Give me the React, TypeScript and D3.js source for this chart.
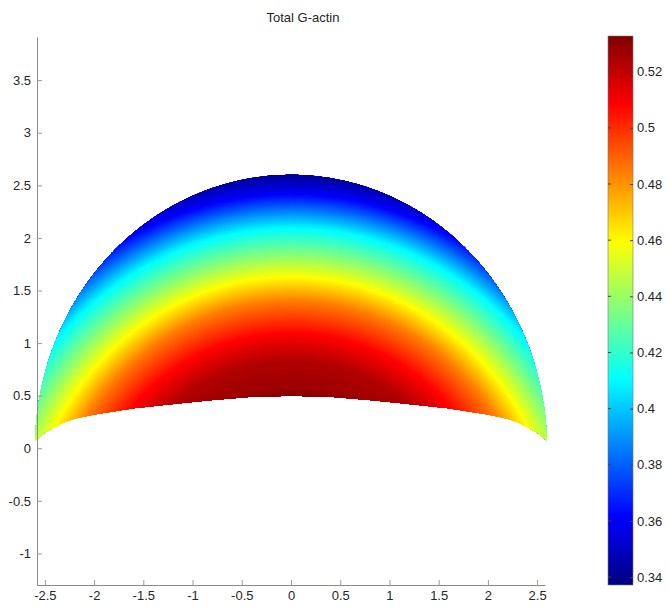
import React, { useEffect, useRef } from "react";
import * as d3 from "d3";

// lower (rear) edge of the cell, left half; right half is the mirror
const lowerX = [-2.6, -2.55, -2.5, -2.4, -2.3, -2.2, -2.0, -1.6, -1.2, -0.8, -0.4, 0];
const lowerY = [0.07, 0.11, 0.15, 0.2, 0.25, 0.28, 0.32, 0.38, 0.42, 0.46, 0.49, 0.5];

// G-actin (height -> value)
const profileH = [0.49, 0.58, 0.84, 1.1, 1.41, 1.63, 1.86, 2.1, 2.43, 2.62];
const profileV = [0.532, 0.527, 0.523, 0.508, 0.484, 0.46, 0.435, 0.41, 0.36, 0.34];

const xTicks = [-2.5, -2, -1.5, -1, -0.5, 0, 0.5, 1, 1.5, 2, 2.5];
const yTicks = [-1, -0.5, 0, 0.5, 1, 1.5, 2, 2.5, 3, 3.5];
const cbTicks = [0.34, 0.36, 0.38, 0.4, 0.42, 0.44, 0.46, 0.48, 0.5, 0.52];

const outerR = 2.6; // front edge radius
const focusY = -1.1; // contours look like arcs around this point
const cMin = 0.3372, cMax = 0.5327;

// matlab jet
const jetStops = [0, 0.125, 0.375, 0.625, 0.875, 1];
const jetColors = ["#00007f", "#0000ff", "#00ffff", "#ffff00", "#ff0000", "#7f0000"];

const font = "'Liberation Sans', Arial, sans-serif";

export default function App() {
  const ref = useRef<SVGSVGElement>(null);

  useEffect(() => {
    document.body.style.margin = "0";
    const svg = d3.select(ref.current);
    svg.selectAll("*").remove();

    const x = d3.scaleLinear().domain([-2.58, 2.58]).range([37, 545]);
    const y = d3.scaleLinear().domain([-1.3, 3.91]).range([585, 37]);
    const jet = d3.scaleLinear<string>().domain(jetStops).range(jetColors).interpolate(d3.interpolateRgb);
    const color = (v: number) => jet((v - cMin) / (cMax - cMin));
    const hToV = d3.scaleLinear().domain(profileH).range(profileV).clamp(true);

    // cell outline
    const lower = lowerX.map((d, i) => [d, lowerY[i]]);
    const lowerFull = lower.concat(lower.slice(0, -1).reverse().map(p => [-p[0], p[1]]));
    const a0 = Math.asin(lowerY[0] / outerR);
    const arc = d3.range(a0, Math.PI - a0, 0.01).concat([Math.PI - a0]).map(a => [outerR * Math.cos(a), outerR * Math.sin(a)]);
    const line = d3.line<number[]>().x(d => x(d[0])).y(d => y(d[1]));
    const outline = line(lowerFull.concat(arc)) + "Z";

    const defs = svg.append("defs");
    defs.append("clipPath").attr("id", "cellClip").append("path").attr("d", outline);

    const grad = defs.append("linearGradient").attr("id", "jetGrad")
      .attr("x1", 0).attr("y1", 1).attr("x2", 0).attr("y2", 0);
    grad.selectAll("stop").data(jetStops).enter().append("stop")
      .attr("offset", d => d)
      .attr("stop-color", (d, i) => jetColors[i]);

    // field: draw rings from outside in
    const kx = x(1) - x(0), ky = y(0) - y(1);
    const field = svg.append("g").attr("clip-path", "url(#cellClip)");
    field.selectAll("ellipse")
      .data(d3.range(3.8, 1.5, -0.01))
      .enter()
      .append("ellipse")
      .attr("cx", x(0))
      .attr("cy", y(focusY))
      .attr("rx", d => d * kx)
      .attr("ry", d => d * ky)
      .attr("fill", d => color(hToV(focusY + d)));

    // axes
    const xAxis = svg.append("g")
      .attr("transform", "translate(0,585)")
      .call(d3.axisBottom(x).tickValues(xTicks).tickFormat(d => String(d)).tickSize(-5).tickSizeOuter(0).tickPadding(6));
    const yAxis = svg.append("g")
      .attr("transform", "translate(37,0)")
      .call(d3.axisLeft(y).tickValues(yTicks).tickFormat(d => String(d)).tickSize(-5).tickSizeOuter(0).tickPadding(6));
    [xAxis, yAxis].forEach(g => {
      g.select(".domain").attr("stroke", "#8a8a8a");
      g.selectAll(".tick line").attr("stroke", "#9a9a9a");
      g.selectAll("text").attr("fill", "#262626").style("font-size", "13px").style("font-family", font);
    });

    // title
    svg.append("text")
      .attr("x", 303)
      .attr("y", 22)
      .attr("text-anchor", "middle")
      .attr("fill", "#262626")
      .style("font-size", "13px")
      .style("font-family", font)
      .text("Total G-actin");

    // colorbar
    const cb = d3.scaleLinear().domain([cMin, cMax]).range([585, 36]);
    const cbL = 608, cbR = 633;
    svg.append("rect")
      .attr("x", cbL).attr("y", cb(cMax))
      .attr("width", cbR - cbL).attr("height", cb(cMin) - cb(cMax))
      .attr("fill", "url(#jetGrad)")
      .attr("stroke", "#777").attr("stroke-width", 0.6);
    const cbAxis = svg.append("g")
      .attr("transform", `translate(${cbR},0)`)
      .call(d3.axisRight(cb).tickValues(cbTicks).tickFormat(d => String(d)).tickSize(-3).tickSizeOuter(0).tickPadding(4));
    cbAxis.select(".domain").remove();
    cbAxis.selectAll(".tick line").attr("stroke", "#444");
    cbAxis.selectAll("text").attr("fill", "#262626").style("font-size", "13px").style("font-family", font);
    svg.append("g").selectAll("line").data(cbTicks).enter().append("line")
      .attr("x1", cbL).attr("x2", cbL + 3)
      .attr("y1", d => cb(d)).attr("y2", d => cb(d))
      .attr("stroke", "#444");
  }, []);

  return <svg ref={ref} width={669} height={610} style={{ display: "block", background: "#fff" }}></svg>;
}
